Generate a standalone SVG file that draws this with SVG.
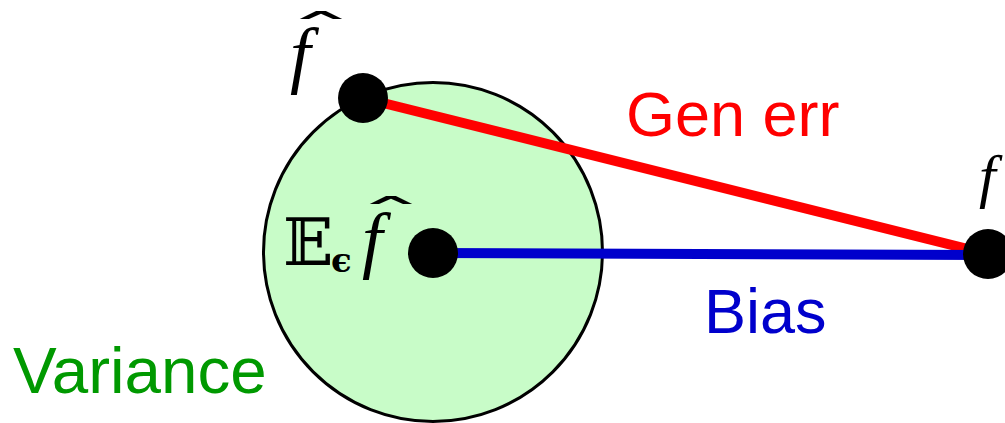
<svg xmlns="http://www.w3.org/2000/svg" width="1005" height="423" viewBox="0 0 1005 423">
<style>
.lbl{font-family:"Liberation Sans",Arial,sans-serif;font-size:63px}
.big{font-size:65.5px}
.math{font-family:"Liberation Serif","DejaVu Serif",serif;font-style:italic;fill:#000}
.hat{font-family:"DejaVu Sans","Liberation Serif",serif;fill:#000}
.dot{fill:#000}
</style>
<rect width="1005" height="423" fill="#fff"/>
<g id="variance-region">
<circle cx="433" cy="252" r="169.5" fill="#c8fcc8" stroke="#000" stroke-width="3"/>
</g>
<g id="connectors">
<line x1="363" y1="98" x2="988" y2="254" stroke="#ff0000" stroke-width="10"/>
<line x1="433" y1="253" x2="988" y2="255" stroke="#0000cc" stroke-width="10"/>
</g>
<g id="fhat">
<circle class="dot" cx="363" cy="98" r="25"/>
<text class="math" x="290" y="79" font-size="74">f</text>
<text class="hat" transform="translate(321,47) scale(3.4,1.1)" text-anchor="middle" font-size="40">ˆ</text>
</g>
<g id="expected-fhat">
<circle class="dot" cx="433" cy="253" r="25"/>
<text x="283" y="265" font-family="DejaVu Serif,serif" font-size="66">𝔼</text>
<text x="331" y="272" font-family="DejaVu Serif,serif" font-weight="bold" font-size="34">ϵ</text>
<text class="math" x="362" y="264" font-size="74">f</text>
<text class="hat" transform="translate(391,232) scale(3.4,1.1)" text-anchor="middle" font-size="40">ˆ</text>
</g>
<g id="f">
<circle class="dot" cx="988" cy="254" r="25"/>
<text class="math" x="979" y="196" font-size="60">f</text>
</g>
<text class="lbl" x="626" y="136" fill="#ff0000">Gen err</text>
<text class="lbl" x="704" y="333" fill="#0000cc">Bias</text>
<text class="lbl big" x="13" y="393" fill="#009900">Variance</text>
</svg>
